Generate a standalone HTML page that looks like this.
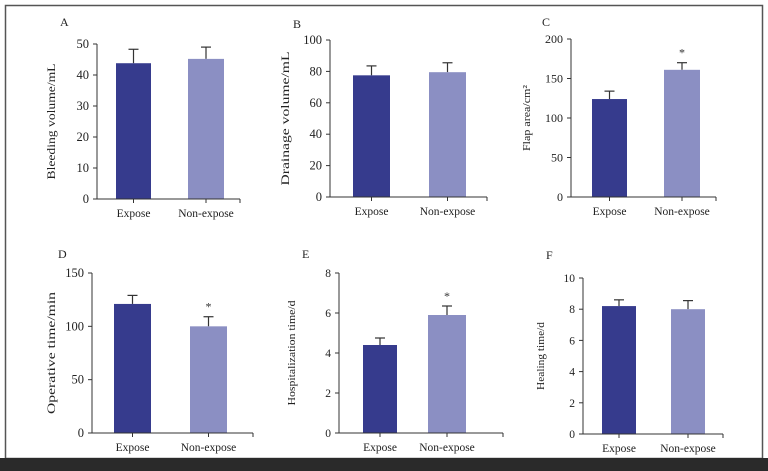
<!DOCTYPE html>
<html><head><meta charset="utf-8"><style>
body{margin:0;background:#fff}
svg{display:block;font-family:"Liberation Serif",serif;}
</style></head><body>
<svg id="fig" width="768" height="471" viewBox="0 0 768 471">
<rect x="5.5" y="5.5" width="757" height="453" fill="#fff" stroke="#555" stroke-width="1.5"/>
<rect x="0" y="458" width="768" height="13" fill="#2a2a2a"/>
</svg>
<script>
const panelLetters=["A","B","C","D","E","F"];
const yTitles=["Bleeding volume/mL","Drainage volume/mL","Flap area/cm²","Operative time/min","Hospitalization time/d","Healing time/d"];
const categories=["Expose","Non-expose"];
const exposeMeans=[43.8,77.5,124,121,4.4,8.2];
const exposeErr=[4.5,6,10,8,0.35,0.4];
const nonExposeMeans=[45.2,79.5,161,100,5.9,8.0];
const nonExposeErr=[3.8,6,9,9,0.45,0.55];
const yMax=[50,100,200,150,8,10];
const yStep=[10,20,50,50,2,2];
const significant=[false,false,true,true,true,false];

const layout=[
 {ax:97,top:44,bot:199,end:240,b1:[116,151],b2:[188,224],tx:55,lx:60,ly:22,tf:12,tl:116,kf:12.5},
 {ax:330,top:40,bot:197,end:487,b1:[353,390],b2:[429,466],tx:289,lx:293,ly:24,tf:12,tl:134,kf:12.5},
 {ax:571,top:39,bot:197,end:716,b1:[592,627],b2:[664,700],tx:530,lx:542,ly:22,tf:11,tl:66,kf:12},
 {ax:92,top:273,bot:433,end:253,b1:[114,151],b2:[190,227],tx:55,lx:58,ly:254,tf:12,tl:122,kf:12.5},
 {ax:339,top:273,bot:433,end:503,b1:[363,397],b2:[428,466],tx:295,lx:302,ly:254,tf:11,tl:105,kf:11.5},
 {ax:583,top:278,bot:434,end:723,b1:[602,636],b2:[671,705],tx:544,lx:546,ly:255,tf:11,tl:68,kf:11.5}
];
const svg=document.getElementById('fig');
const NS="http://www.w3.org/2000/svg";
function mk(tag,attrs,parent){const e=document.createElementNS(NS,tag);for(const k in attrs)e.setAttribute(k,attrs[k]);(parent||svg).appendChild(e);return e;}
const colors=["#363b8d","#8b8fc3"];
for(let p=0;p<6;p++){
 const L=layout[p];
 const g=mk('g',{});
 
 
 const y=v=>L.bot-(v/yMax[p])*(L.bot-L.top);
 const lt=mk('text',{x:L.lx,y:L.ly+4,'font-size':12,fill:'#222'},g);lt.textContent=panelLetters[p];
 
 
 const my=(L.top+L.bot)/2;
 const yt=mk('text',{x:L.tx,y:my,'font-size':L.tf,fill:'#222','text-anchor':'middle',textLength:L.tl,lengthAdjust:'spacingAndGlyphs',transform:`rotate(-90 ${L.tx} ${my})`},g);yt.textContent=yTitles[p];
 
 
 const means=[exposeMeans[p],nonExposeMeans[p]],errs=[exposeErr[p],nonExposeErr[p]],bx=[L.b1,L.b2];
 for(let i=0;i<2;i++){
  const top=y(means[i]),cx=(bx[i][0]+bx[i][1])/2,et=y(means[i]+errs[i]);
  const el=mk('line',{x1:cx,x2:cx,y1:top,y2:et,stroke:'#333','stroke-width':1.2},g);
  
  
  mk('line',{x1:cx-5,x2:cx+5,y1:et,y2:et,stroke:'#333','stroke-width':1.2},g);
  const r=mk('rect',{x:bx[i][0],y:top,width:bx[i][1]-bx[i][0],height:L.bot-top,fill:colors[i]},g);
  
  
  mk('line',{x1:cx,x2:cx,y1:L.bot,y2:L.bot+4,stroke:'#333'},g);
  const ct=mk('text',{x:cx,y:L.bot+18,'font-size':11.5,fill:'#222','text-anchor':'middle'},g);ct.textContent=categories[i];
  
  
  if(i===1&&significant[p]){const s=mk('text',{x:cx,y:et-6,'font-size':12,fill:'#333','text-anchor':'middle'},g);s.textContent='*';
   
   }
 }
 const ya=mk('line',{x1:L.ax,x2:L.ax,y1:L.top,y2:L.bot,stroke:'#333','stroke-width':1},g);
 
 
 const xa=mk('line',{x1:L.ax,x2:L.end,y1:L.bot,y2:L.bot,stroke:'#333','stroke-width':1},g);
 
 
 mk('line',{x1:L.end,x2:L.end,y1:L.bot,y2:L.bot+4,stroke:'#333'},g);
 for(let v=0;v<=yMax[p]+1e-9;v+=yStep[p]){
  mk('line',{x1:L.ax-4,x2:L.ax,y1:y(v),y2:y(v),stroke:'#333'},g);
  const t=mk('text',{x:L.ax-8,y:y(v)+4,'font-size':L.kf,fill:'#222','text-anchor':'end'},g);t.textContent=v;
  
  
 }
}
</script>
</body></html>
